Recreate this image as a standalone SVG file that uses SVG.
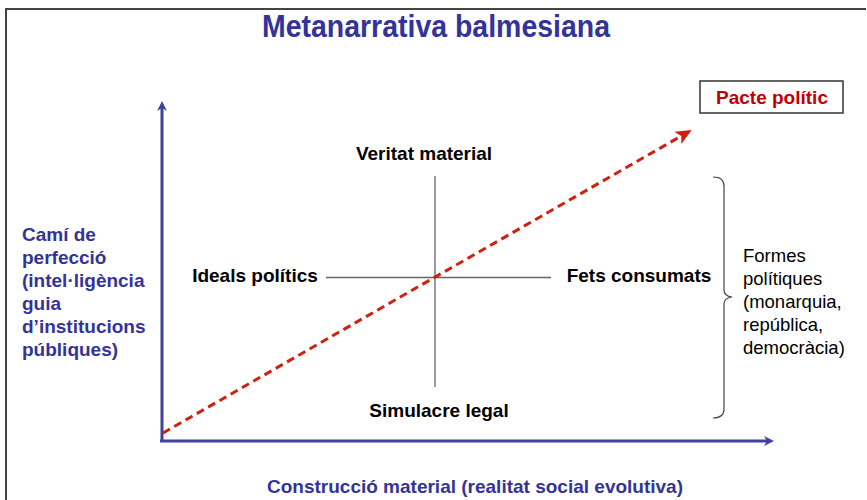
<svg xmlns="http://www.w3.org/2000/svg" width="867" height="500" viewBox="0 0 867 500">
<style>
.t{font-family:"Liberation Sans",Arial,sans-serif;font-weight:bold;font-size:19px}
.blue{fill:#333399}
.blk{fill:#000}
.reg{font-family:"Liberation Sans",Arial,sans-serif;font-size:18.5px;fill:#000}
.axis{stroke:#4040a0;stroke-width:3;fill:none}
.cross{stroke:#666;stroke-width:1.3;fill:none}
</style>
<defs>
<marker id="ab" markerWidth="10" markerHeight="10" refX="5" refY="5" orient="auto" markerUnits="userSpaceOnUse" viewBox="0 0 10 10">
<path d="M0,0 L10,5 L0,10 L3,5 Z" fill="#4040a0"/>
</marker>
<marker id="ar" markerWidth="16" markerHeight="14" refX="14" refY="7" orient="auto" markerUnits="userSpaceOnUse" viewBox="0 0 16 14">
<path d="M0,0 L16,7 L0,14 L4,7 Z" fill="#d02010"/>
</marker>
</defs>
<rect width="867" height="500" fill="#fff"/>
<g id="frame">
<path d="M866,9 H6 V500" fill="none" stroke="#444" stroke-width="2"/>
</g>
<g id="title">
<text x="436" y="37" class="blue" text-anchor="middle" textLength="348" lengthAdjust="spacingAndGlyphs" style="font-family:'Liberation Sans Narrow','Liberation Sans',Arial,sans-serif;font-weight:bold;font-size:31px">Metanarrativa balmesiana</text>
</g>
<g id="connectors">
<path class="axis" d="M162,441 V106" marker-end="url(#ab)"/>
<path class="axis" d="M160,441 H769" marker-end="url(#ab)"/>
<path class="cross" d="M435,176 V387"/>
<path class="cross" d="M326,277.5 H551"/>
<path d="M163,433 L690,131" stroke="#d02010" stroke-width="3" stroke-dasharray="8,5" fill="none" marker-end="url(#ar)"/>
<path d="M713,177 Q724,177 724,186 V290 Q724,296 732,297 Q724,298 724,304 V409 Q724,418 713,418" fill="none" stroke="#444" stroke-width="1.2"/>
</g>
<g id="pacte">
<rect x="700" y="81" width="143" height="32" fill="#fff" stroke="#333" stroke-width="1.5"/>
<text x="772" y="104" text-anchor="middle" class="t" style="fill:#c00000">Pacte polític</text>
</g>
<g id="veritat"><text x="424" y="160" text-anchor="middle" class="t blk">Veritat material</text></g>
<g id="ideals"><text x="255" y="282" text-anchor="middle" class="t blk">Ideals polítics</text></g>
<g id="fets"><text x="639" y="282" text-anchor="middle" class="t blk">Fets consumats</text></g>
<g id="simulacre"><text x="439" y="417" text-anchor="middle" class="t blk">Simulacre legal</text></g>
<g id="cami">
<text class="t blue" x="22">
<tspan x="22" y="241">Camí de</tspan>
<tspan x="22" y="264">perfecció</tspan>
<tspan x="22" y="287">(intel·ligència</tspan>
<tspan x="22" y="310">guia</tspan>
<tspan x="22" y="333">d’institucions</tspan>
<tspan x="22" y="356">públiques)</tspan>
</text>
</g>
<g id="formes">
<text class="reg">
<tspan x="743" y="262">Formes</tspan>
<tspan x="743" y="285">polítiques</tspan>
<tspan x="743" y="308">(monarquia,</tspan>
<tspan x="743" y="331">república,</tspan>
<tspan x="743" y="354">democràcia)</tspan>
</text>
</g>
<g id="construccio"><text x="475" y="493" text-anchor="middle" class="t blue">Construcció material (realitat social evolutiva)</text></g>
</svg>
